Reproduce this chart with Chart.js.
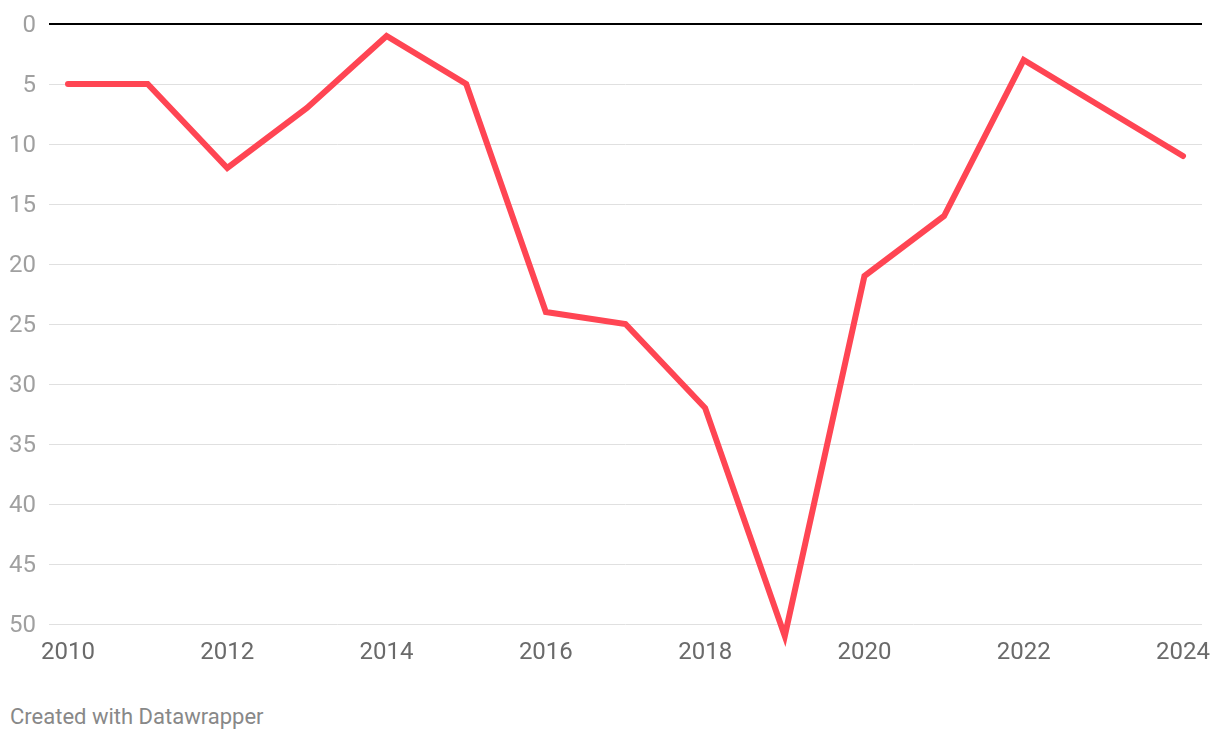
<!DOCTYPE html>
<html>
<head>
<meta charset="utf-8">
<script src="https://cdn.jsdelivr.net/npm/chart.js@4"></script>
<style>
html,body{margin:0;padding:0;background:#fff;width:1220px;height:740px;overflow:hidden;font-family:Roboto,sans-serif;}
#wrap{position:absolute;left:0;top:0;width:1220px;height:681px;}
#credit{position:absolute;left:10px;top:704px;font-size:22px;line-height:26px;color:#888;font-family:Roboto,sans-serif;}
</style>
</head>
<body>
<div id="wrap"><canvas id="c"></canvas></div>
<div id="credit">Created with Datawrapper</div>
<script>
const years = [2010,2011,2012,2013,2014,2015,2016,2017,2018,2019,2020,2021,2022,2023,2024];
const ranks = [5,5,12,7,1,5,24,25,32,51,21,16,3,7,11];
const xTicks = [2010,2012,2014,2016,2018,2020,2022,2024];
const yTicks = [0,5,10,15,20,25,30,35,40,45,50];

const points = years.map((y,i)=>({x:y,y:ranks[i]}));

new Chart(document.getElementById('c'), {
  type: 'line',
  data: {
    datasets: [{
      data: points,
      borderColor: '#ff4553',
      borderWidth: 6,
      pointRadius: 0,
      borderCapStyle: 'round',
      borderJoinStyle: 'miter',
      tension: 0,
      clip: false
    }]
  },
  options: {
    responsive: true,
    maintainAspectRatio: false,
    animation: false,
    layout: { padding: { top: 24, right: 18, left: 0, bottom: 0 } },
    plugins: { legend: { display: false }, tooltip: { enabled: false } },
    scales: {
      x: {
        type: 'linear',
        min: 2010 - 0.2386,
        max: 2024 + 0.2386,
        afterBuildTicks: (s) => { s.ticks = xTicks.map(v => ({ value: v })); },
        afterFit: (s) => { s.height = 57; s.paddingLeft = 0; s.paddingRight = 0; },
        grid: { display: false, drawTicks: false },
        border: { display: false },
        ticks: {
          autoSkip: false,
          maxRotation: 0,
          padding: 15,
          color: '#6a6a6a',
          font: { family: 'Roboto', size: 24 },
          callback: (v) => String(v)
        }
      },
      y: {
        reverse: true,
        min: 0,
        max: 50,
        afterBuildTicks: (s) => { s.ticks = yTicks.map(v => ({ value: v })); },
        afterFit: (s) => { s.width = 49; s.paddingTop = 0; s.paddingBottom = 0; },
        grid: {
          drawTicks: false,
          color: (ctx) => ctx.tick && ctx.tick.value === 0 ? '#000' : '#e0e0e0',
          lineWidth: (ctx) => ctx.tick && ctx.tick.value === 0 ? 2 : 1
        },
        border: { display: false },
        ticks: {
          padding: 13,
          labelOffset: 2,
          color: '#a0a0a0',
          font: { family: 'Roboto', size: 24 },
          callback: (v) => String(v)
        }
      }
    }
  }
});
</script>
</body>
</html>
